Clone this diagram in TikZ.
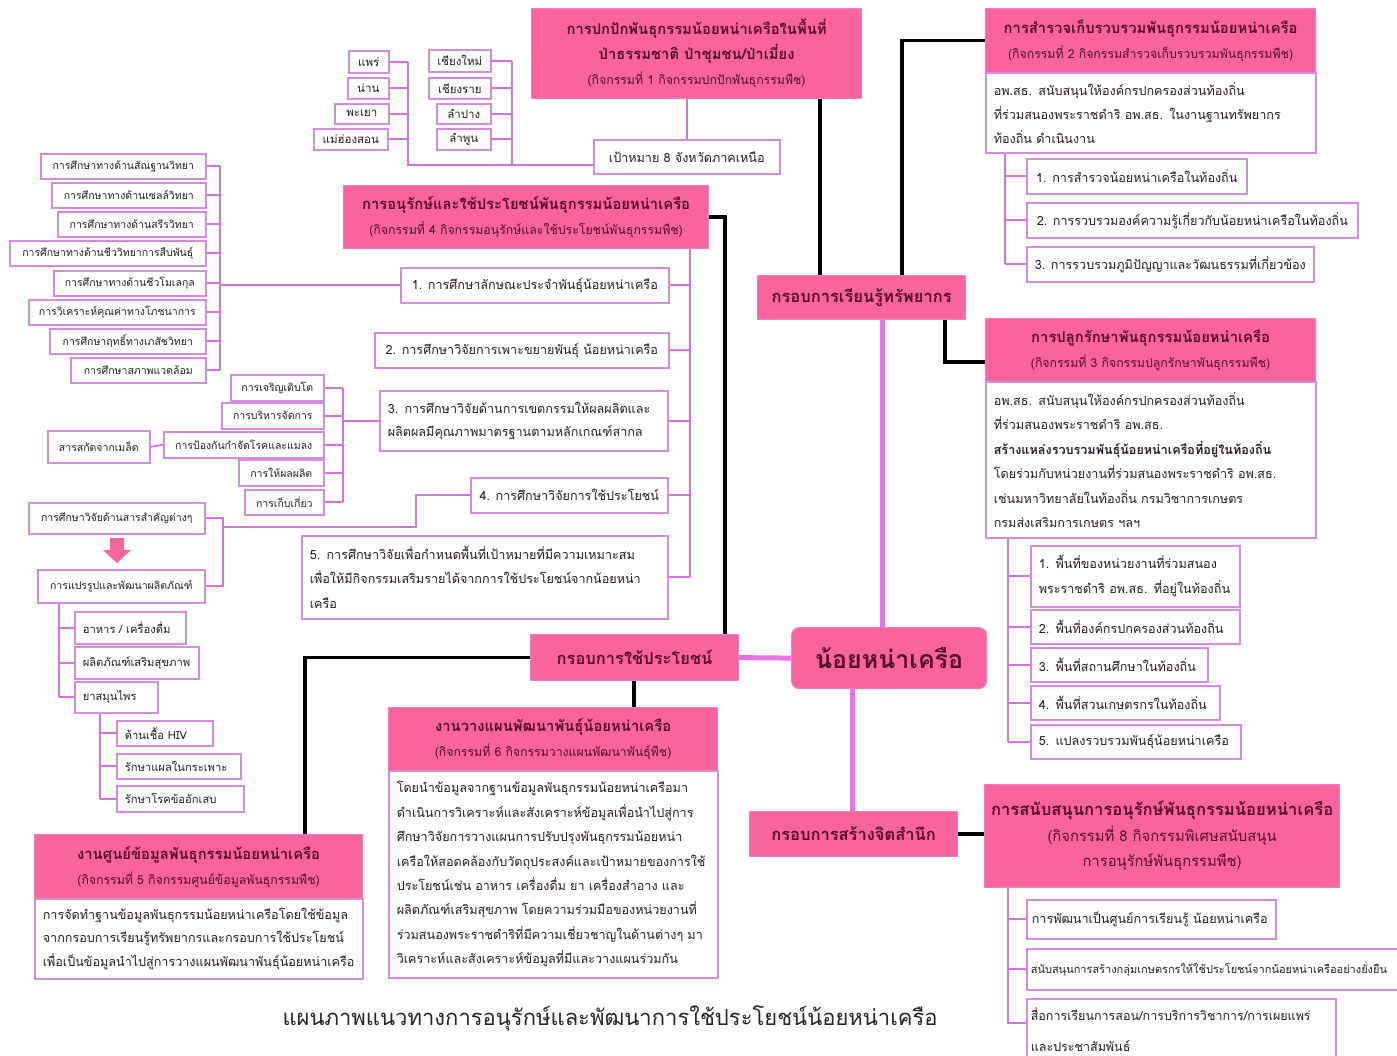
\documentclass[tikz,border=0pt]{standalone}
\usepackage{fontspec}
\setmainfont[Script=Thai]{Loma}
\definecolor{pinkf}{RGB}{248,100,155}
\definecolor{pbord}{RGB}{238,125,205}
\definecolor{bord}{RGB}{212,140,222}
\definecolor{plink}{RGB}{212,115,220}
\definecolor{clink}{RGB}{232,112,236}
\definecolor{htext}{RGB}{85,12,42}
\definecolor{btext}{RGB}{40,30,40}
\newcommand\szP{\fontsize{11.5}{13}\selectfont}
\newcommand\szS{\fontsize{10.5}{12}\selectfont}
\newcommand\szSm{\fontsize{11.2}{13}\selectfont}
\newcommand\szM{\fontsize{12.6}{14}\selectfont}
\newcommand\szMb{\fontsize{12.6}{24}\selectfont}
\newcommand\szHd{\fontsize{12.3}{25}\selectfont}
\newcommand\tH{\bfseries\fontsize{14.8}{17}\selectfont}
\newcommand\tU{\fontsize{12.3}{14}\selectfont}
\newcommand\szK{\bfseries\fontsize{16.5}{18}\selectfont}
\newcommand\szC{\bfseries\fontsize{25}{28}\selectfont}
\newcommand\szT{\fontsize{22}{25}\selectfont}
\newcommand\bx[7][]{\node[#1,minimum width=#5pt,minimum height=#6pt,anchor=north west] (#2) at (#3,#4) {#7};}
\begin{document}
\begin{tikzpicture}[x=1pt,y=-1pt,
 wbox/.style={draw=bord,line width=1.6pt,fill=white,inner sep=2pt,text=btext,align=center},
 lbox/.style={wbox,align=left,inner xsep=8pt,inner ysep=2pt},
 pbox/.style={draw=pbord,line width=1.2pt,fill=pinkf,inner sep=2pt,text=htext,align=center,font=\szHd},
 pl/.style={draw=plink,line width=1.8pt},
 bl/.style={draw=black,line width=3.6pt},
 cl/.style={draw=clink,line width=5pt},
]
\useasboundingbox (0,0) rectangle (1397,1055);
\fill[white] (0,0) rectangle (1397,1055);

% ---------- top centre: activity 1 and provinces
\bx[pbox]{a1}{531}{8}{330}{90}{{\tH การปกปักพันธุกรรมน้อยหน่าเครือในพื้นที่}\\{\tH ป่าธรรมชาติ ป่าชุมชน/ป่าเมี่ยง}\\{\tU (กิจกรรมที่ 1 กิจกรรมปกปักพันธุกรรมพืช)}}
\bx[wbox,font=\szM]{goal}{593}{139}{186}{34}{เป้าหมาย 8 จังหวัดภาคเหนือ}
\bx[wbox,font=\szP]{pr1}{348}{50}{40}{22}{แพร่}
\bx[wbox,font=\szP]{pr2}{347}{77}{41}{21}{น่าน}
\bx[wbox,font=\szP]{pr3}{334}{103}{54}{20}{พะเยา}
\bx[wbox,font=\szP]{pr4}{313}{128}{74}{21}{แม่ฮ่องสอน}
\bx[wbox,font=\szP]{pr5}{428}{49}{62}{22}{เชียงใหม่}
\bx[wbox,font=\szP]{pr6}{428}{77}{62}{21}{เชียงราย}
\bx[wbox,font=\szP]{pr7}{436}{103}{54}{20}{ลำปาง}
\bx[wbox,font=\szP]{pr8}{436}{128}{54}{21}{ลำพูน}
\coordinate (busPL) at (408,0);
\coordinate (busPR) at (512,0);
\coordinate (gl) at (594,165);
\foreach \n in {pr1,pr2,pr3,pr4} \draw[pl] (\n.east) -- (\n.east -| busPL);
\foreach \n in {pr5,pr6,pr7,pr8} \draw[pl] (\n.east) -- (\n.east -| busPR);
\draw[pl] (pr1.east -| busPL) -- (busPL |- gl) -- (gl);
\draw[pl] (pr5.east -| busPR) -- (busPR |- gl);
\draw[pl] (goal.north) -- (goal.north |- a1.south);

% ---------- activity 4
\bx[pbox]{a4}{343}{185}{365}{63}{{\tH การอนุรักษ์และใช้ประโยชน์พันธุกรรมน้อยหน่าเครือ}\\{\tU (กิจกรรมที่ 4 กิจกรรมอนุรักษ์และใช้ประโยชน์พันธุกรรมพืช)}}
\bx[wbox,font=\szM]{c1}{400}{267}{268}{35}{1. การศึกษาลักษณะประจำพันธุ์น้อยหน่าเครือ}
\bx[wbox,font=\szM]{c2}{374}{332}{294}{35}{2. การศึกษาวิจัยการเพาะขยายพันธุ์ น้อยหน่าเครือ}
\node[lbox,font=\fontsize{12.6}{23.5}\selectfont,text width=272pt,minimum height=60pt,anchor=north west] (c3) at (379,390) {3. การศึกษาวิจัยด้านการเขตกรรมให้ผลผลิตและ\\ผลิตผลมีคุณภาพมาตรฐานตามหลักเกณฑ์สากล};
\bx[wbox,font=\szM]{c4}{470}{477}{197}{35}{4. การศึกษาวิจัยการใช้ประโยชน์}
\node[lbox,font=\fontsize{12.6}{24.5}\selectfont,text width=350pt,minimum height=83pt,anchor=north west] (c5) at (301,535) {5. การศึกษาวิจัยเพื่อกำหนดพื้นที่เป้าหมายที่มีความเหมาะสม\\เพื่อให้มีกิจกรรมเสริมรายได้จากการใช้ประโยชน์จากน้อยหน่า\\เครือ};
\coordinate (busA4) at (690,0);
\draw[pl] (a4.south -| busA4) -- (c5.east -| busA4);
\foreach \n in {c1,c2,c3,c4,c5} \draw[pl] (\n.east) -- (\n.east -| busA4);

% studies (left)
\bx[wbox,font=\szS]{s1}{40}{153}{165}{25}{การศึกษาทางด้านสัณฐานวิทยา}
\bx[wbox,font=\szS]{s2}{51}{182}{154}{25}{การศึกษาทางด้านเซลล์วิทยา}
\bx[wbox,font=\szS]{s3}{57}{211}{148}{25}{การศึกษาทางด้านสรีรวิทยา}
\bx[wbox,font=\szS]{s4}{9}{240}{196}{25}{การศึกษาทางด้านชีววิทยาการสืบพันธุ์}
\bx[wbox,font=\szS]{s5}{53}{270}{152}{25}{การศึกษาทางด้านชีวโมเลกุล}
\bx[wbox,font=\szS]{s6}{28}{299}{177}{25}{การวิเคราะห์คุณค่าทางโภชนาการ}
\bx[wbox,font=\szS]{s7}{49}{328}{156}{25}{การศึกษาฤทธิ์ทางเภสัชวิทยา}
\bx[wbox,font=\szS]{s8}{70}{357}{135}{25}{การศึกษาสภาพแวดล้อม}
\coordinate (busS) at (220,0);
\foreach \n in {s1,s2,s3,s4,s5,s6,s7,s8} \draw[pl] (\n.east) -- (\n.east -| busS);
\draw[pl] (s1.east -| busS) -- (s8.east -| busS);
\draw[pl] (c1.west) -- (c1.west -| busS);

% cultivation group
\bx[wbox,font=\szS]{g1}{230}{374}{93}{26}{การเจริญเติบโต}
\bx[wbox,font=\szS]{g2}{221}{402}{102}{26}{การบริหารจัดการ}
\bx[wbox,font=\szS]{g3}{163}{431}{160}{26}{การป้องกันกำจัดโรคและแมลง}
\bx[wbox,font=\szS]{g4}{238}{459}{85}{26}{การให้ผลผลิต}
\bx[wbox,font=\szS]{g5}{244}{489}{79}{25}{การเก็บเกี่ยว}
\bx[wbox,font=\szS]{ext}{47}{430}{102}{32}{สารสกัดจากเมล็ด}
\coordinate (busG) at (343,0);
\foreach \n in {g1,g2,g3,g4,g5} \draw[pl] (\n.east) -- (\n.east -| busG);
\draw[pl] (g1.east -| busG) -- (g5.east -| busG);
\draw[pl] (c3.west) -- (c3.west -| busG);
\draw[pl] (ext.east) -- (g3.west);

% utilisation research
\bx[wbox,font=\szS]{r1}{28}{502}{176}{31}{การศึกษาวิจัยด้านสารสำคัญต่างๆ}
\bx[wbox,font=\szS]{r2}{37}{569}{167}{33}{การแปรรูปและพัฒนาผลิตภัณฑ์}
\coordinate (k1) at (416,527);
\coordinate (busR) at (223,527);
\draw[pl] (c4.west) -| (k1) -- (busR);
\draw[pl] (r1.east) -- (r1.east -| busR) -- (r2.east -| busR) -- (r2.east);
\fill[pinkf] (110,538) -- (124,538) -- (124,550) -- (131,550) -- (117,563) -- (103,550) -- (110,550) -- cycle;
\node[lbox,font=\szSm,text width=95pt,minimum height=32pt,anchor=north west] (p1) at (74,611) {อาหาร / เครื่องดื่ม};
\node[lbox,font=\szSm,text width=108pt,minimum height=32pt,anchor=north west] (p2) at (74,646) {ผลิตภัณฑ์เสริมสุขภาพ};
\node[lbox,font=\szSm,text width=67pt,minimum height=31pt,anchor=north west] (p3) at (74,681) {ยาสมุนไพร};
\coordinate (busP) at (59,0);
\draw[pl] (r2.south -| busP) -- (p3.west -| busP);
\foreach \n in {p1,p2,p3} \draw[pl] (\n.west -| busP) -- (\n.west);
\node[lbox,font=\szSm,text width=80pt,minimum height=25pt,anchor=north west] (m1) at (116,720) {ด้านเชื้อ HIV};
\node[lbox,font=\szSm,text width=108pt,minimum height=25pt,anchor=north west] (m2) at (116,753) {รักษาแผลในกระเพาะ};
\node[lbox,font=\szSm,text width=111pt,minimum height=26pt,anchor=north west] (m3) at (116,785) {รักษาโรคข้ออักเสบ};
\coordinate (busM) at (100,0);
\draw[pl] (p3.south -| busM) -- (m3.west -| busM);
\foreach \n in {m1,m2,m3} \draw[pl] (\n.west -| busM) -- (\n.west);

% ---------- activity 5 and 6
\bx[pbox]{a5h}{34}{834}{328}{64}{{\tH งานศูนย์ข้อมูลพันธุกรรมน้อยหน่าเครือ}\\{\tU (กิจกรรมที่ 5 กิจกรรมศูนย์ข้อมูลพันธุกรรมพืช)}}
\node[lbox,font=\fontsize{12.6}{23.5}\selectfont,text width=312pt,minimum height=80pt,anchor=north west] (a5b) at (34,898) {การจัดทำฐานข้อมูลพันธุกรรมน้อยหน่าเครือโดยใช้ข้อมูล\\จากกรอบการเรียนรู้ทรัพยากรและกรอบการใช้ประโยชน์\\เพื่อเป็นข้อมูลนำไปสู่การวางแผนพัฒนาพันธุ์น้อยหน่าเครือ};
\bx[pbox]{a6h}{388}{707}{329}{63}{{\tH งานวางแผนพัฒนาพันธุ์น้อยหน่าเครือ}\\{\tU (กิจกรรมที่ 6 กิจกรรมวางแผนพัฒนาพันธุ์พืช)}}
\node[lbox,font=\fontsize{12.6}{24.4}\selectfont,text width=313pt,minimum height=207pt,anchor=north west] (a6b) at (388,770) {โดยนำข้อมูลจากฐานข้อมูลพันธุกรรมน้อยหน่าเครือมา\\ดำเนินการวิเคราะห์และสังเคราะห์ข้อมูลเพื่อนำไปสู่การ\\ศึกษาวิจัยการวางแผนการปรับปรุงพันธุกรรมน้อยหน่า\\เครือให้สอดคล้องกับวัตถุประสงค์และเป้าหมายของการใช้\\ประโยชน์เช่น อาหาร เครื่องดื่ม ยา เครื่องสำอาง และ\\ผลิตภัณฑ์เสริมสุขภาพ โดยความร่วมมือของหน่วยงานที่\\ร่วมสนองพระราชดำริที่มีความเชี่ยวชาญในด้านต่างๆ มา\\วิเคราะห์และสังเคราะห์ข้อมูลที่มีและวางแผนร่วมกัน};

% ---------- frames and centre
\bx[pbox,font=\szK]{u}{530}{634}{208}{46}{กรอบการใช้ประโยชน์}
\bx[pbox,font=\szK]{lr}{757}{275}{208}{44}{กรอบการเรียนรู้ทรัพยากร}
\bx[pbox,font=\szK]{aw}{749}{811}{208}{45}{กรอบการสร้างจิตสำนึก}
\bx[pbox,font=\szC,rounded corners=8pt]{ctr}{791}{627}{195}{61}{น้อยหน่าเครือ}
\coordinate (kU) at (305,0);
\coordinate (kA6) at (634,0);
\coordinate (kD) at (725,0);
\coordinate (kA) at (820,0);
\coordinate (kB) at (902,0);
\coordinate (kC) at (945,0);
\coordinate (kC2) at (985,362);
\coordinate (kT) at (882,0);
\coordinate (kW) at (852,0);
\draw[cl] (u.east) -- (ctr.west);
\draw[cl] (ctr.north -| kT) -- (lr.south -| kT);
\draw[cl] (ctr.south -| kW) -- (aw.north -| kW);
\draw[bl] (u.west) -- (u.west -| kU) -- (a5h.north -| kU);
\draw[bl] (u.south -| kA6) -- (a6h.north -| kA6);
\draw[bl] (a4.east) -| (u.north -| kD);
\draw[bl] (lr.north -| kA) -- (a1.south -| kA);

% ---------- activity 2
\bx[pbox]{a2h}{985}{8}{330}{64}{{\tH การสำรวจเก็บรวบรวมพันธุกรรมน้อยหน่าเครือ}\\{\tU (กิจกรรมที่ 2 กิจกรรมสำรวจเก็บรวบรวมพันธุกรรมพืช)}}
\node[lbox,font=\fontsize{12.6}{24}\selectfont,text width=314pt,minimum height=80pt,anchor=north west] (a2b) at (985,72) {อพ.สธ. สนับสนุนให้องค์กรปกครองส่วนท้องถิ่น\\ที่ร่วมสนองพระราชดำริ อพ.สธ. ในงานฐานทรัพยากร\\ท้องถิ่น ดำเนินงาน};
\bx[wbox,font=\szM]{n1}{1026}{158}{220}{35}{1. การสำรวจน้อยหน่าเครือในท้องถิ่น}
\bx[wbox,font=\szM]{n2}{1026}{202}{331}{35}{2. การรวบรวมองค์ความรู้เกี่ยวกับน้อยหน่าเครือในท้องถิ่น}
\bx[wbox,font=\szM]{n3}{1026}{246}{287}{35}{3. การรวบรวมภูมิปัญญาและวัฒนธรรมที่เกี่ยวข้อง}
\coordinate (busN) at (1005,0);
\draw[pl] (a2b.south -| busN) -- (n3.west -| busN);
\foreach \n in {n1,n2,n3} \draw[pl] (\n.west -| busN) -- (\n.west);
\draw[bl] (lr.north -| kB) |- (a2h.west);

% ---------- activity 3
\bx[pbox]{a3h}{985}{318}{330}{63}{{\tH การปลูกรักษาพันธุกรรมน้อยหน่าเครือ}\\{\tU (กิจกรรมที่ 3 กิจกรรมปลูกรักษาพันธุกรรมพืช)}}
\node[lbox,font=\fontsize{12.6}{24.5}\selectfont,text width=314pt,minimum height=156pt,anchor=north west] (a3b) at (985,381) {อพ.สธ. สนับสนุนให้องค์กรปกครองส่วนท้องถิ่น\\ที่ร่วมสนองพระราชดำริ อพ.สธ.\\{\bfseries สร้างแหล่งรวบรวมพันธุ์น้อยหน่าเครือที่อยู่ในท้องถิ่น}\\โดยร่วมกับหน่วยงานที่ร่วมสนองพระราชดำริ อพ.สธ.\\เช่นมหาวิทยาลัยในท้องถิ่น กรมวิชาการเกษตร\\กรมส่งเสริมการเกษตร ฯลฯ};
\draw[bl] (lr.south -| kC) |- (kC2);
\node[lbox,font=\fontsize{12.6}{25}\selectfont,text width=193pt,minimum height=61pt,anchor=north west] (q1) at (1030,545) {1. พื้นที่ของหน่วยงานที่ร่วมสนอง\\พระราชดำริ อพ.สธ. ที่อยู่ในท้องถิ่น};
\node[lbox,font=\szM,text width=193pt,minimum height=34pt,anchor=north west] (q2) at (1030,609) {2. พื้นที่องค์กรปกครองส่วนท้องถิ่น};
\node[lbox,font=\szM,text width=161pt,minimum height=34pt,anchor=north west] (q3) at (1030,647) {3. พื้นที่สถานศึกษาในท้องถิ่น};
\node[lbox,font=\szM,text width=173pt,minimum height=34pt,anchor=north west] (q4) at (1030,685) {4. พื้นที่สวนเกษตรกรในท้องถิ่น};
\node[lbox,font=\szM,text width=194pt,minimum height=34pt,anchor=north west] (q5) at (1030,724) {5. แปลงรวบรวมพันธุ์น้อยหน่าเครือ};
\coordinate (busQ) at (1008,0);
\draw[pl] (a3b.south -| busQ) -- (q5.west -| busQ);
\foreach \n in {q1,q2,q3,q4,q5} \draw[pl] (\n.west -| busQ) -- (\n.west);

% ---------- activity 8
\bx[pbox,font=\fontsize{14.8}{25.5}\selectfont]{a8}{984}{784}{355}{103}{{\bfseries\fontsize{16.6}{19}\selectfont การสนับสนุนการอนุรักษ์พันธุกรรมน้อยหน่าเครือ}\\(กิจกรรมที่ 8 กิจกรรมพิเศษสนับสนุน\\การอนุรักษ์พันธุกรรมพืช)}
\draw[bl] (aw.east) -- (aw.east -| a8.west);
\node[lbox,font=\szM,text width=239pt,minimum height=39pt,anchor=north west,inner xsep=5pt] (t1) at (1026,899) {การพัฒนาเป็นศูนย์การเรียนรู้ น้อยหน่าเครือ};
\node[lbox,font=\fontsize{11}{13}\selectfont,text width=380pt,minimum height=41pt,anchor=north west,inner xsep=4pt] (t2) at (1026,948) {สนับสนุนการสร้างกลุ่มเกษตรกรให้ใช้ประโยชน์จากน้อยหน่าเครืออย่างยั่งยืน};
\node[lbox,font=\fontsize{12.5}{31}\selectfont,text width=301pt,minimum height=62pt,anchor=north west,inner xsep=4pt] (t3) at (1026,998) {สื่อการเรียนการสอน/การบริการวิชาการ/การเผยแพร่\\และประชาสัมพันธ์};
\coordinate (t3c) at (1026,1023);
\coordinate (busT) at (1008,0);
\draw[pl] (a8.south -| busT) -- (t3c -| busT) -- (t3c);
\foreach \n in {t1,t2} \draw[pl] (\n.west -| busT) -- (\n.west);

% ---------- title
\node[font=\szT,text=black!85] (title) at (610,1018) {แผนภาพแนวทางการอนุรักษ์และพัฒนาการใช้ประโยชน์น้อยหน่าเครือ};
\end{tikzpicture}
\end{document}
